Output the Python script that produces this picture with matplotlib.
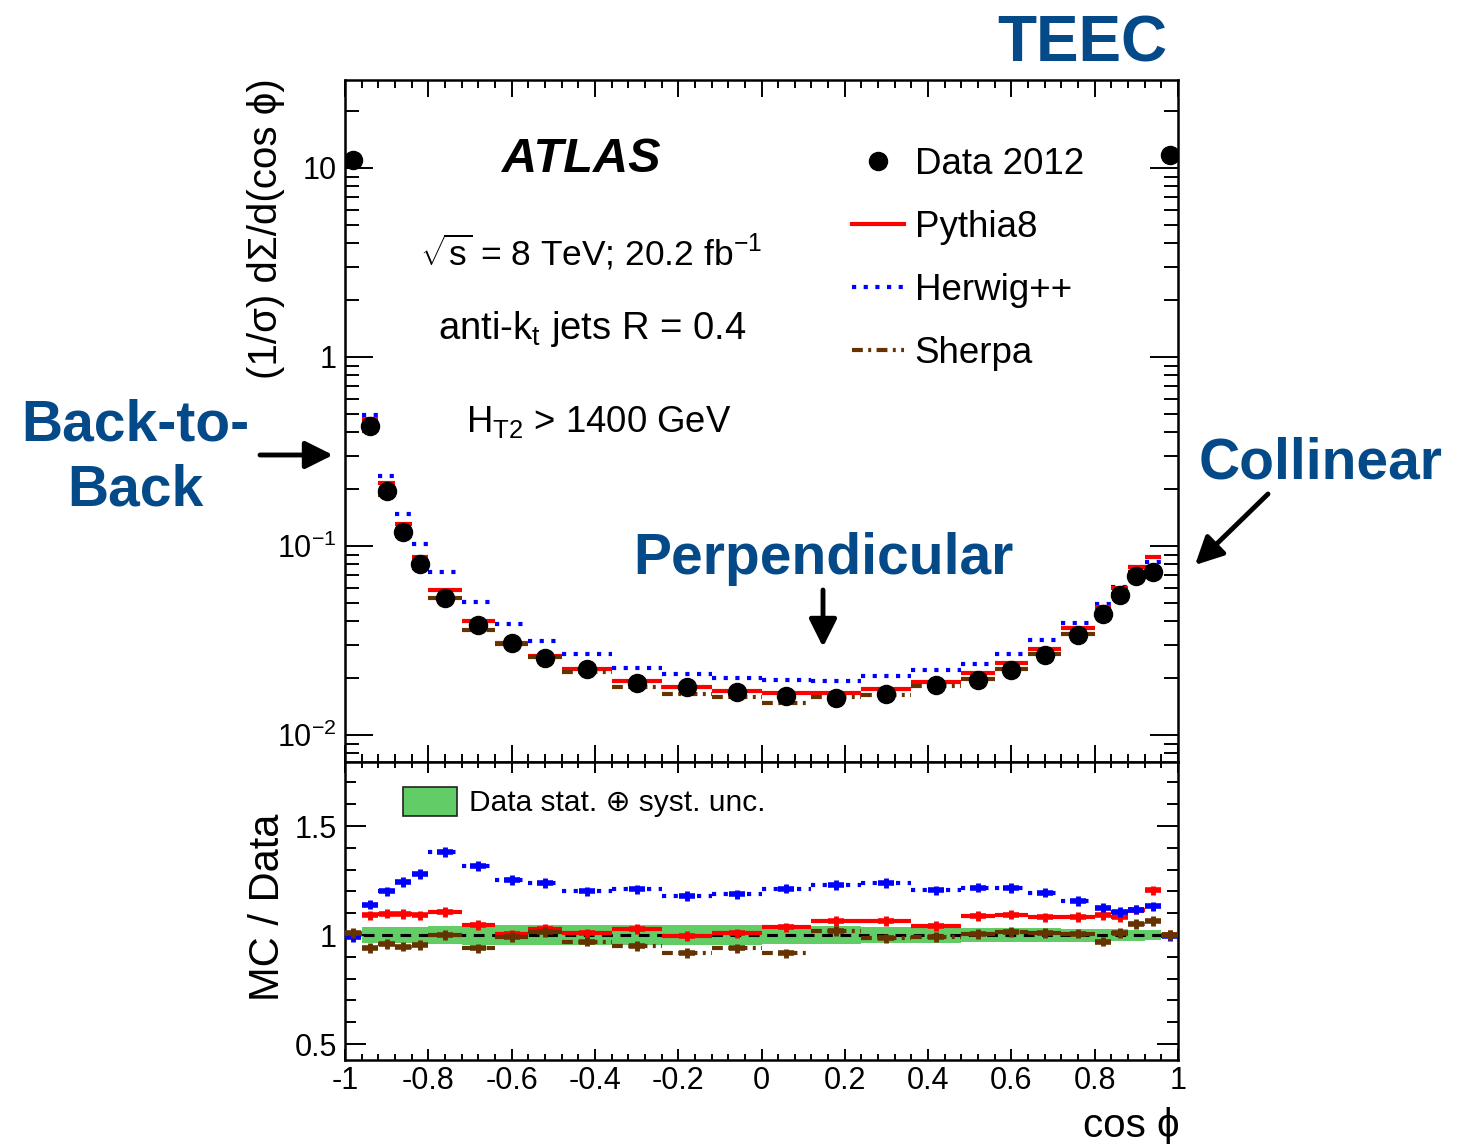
import matplotlib
matplotlib.use('Agg')
import matplotlib.pyplot as plt
import numpy as np
from matplotlib.lines import Line2D
from matplotlib.patches import Patch
from matplotlib.ticker import MultipleLocator, LogLocator, NullFormatter

plt.rcParams['font.family'] = ['Liberation Sans', 'DejaVu Sans']
plt.rcParams['mathtext.fontset'] = 'custom'
plt.rcParams['mathtext.rm'] = 'Liberation Sans'
plt.rcParams['mathtext.it'] = 'Liberation Sans:italic'
plt.rcParams['mathtext.bf'] = 'Liberation Sans:bold'
plt.rcParams['axes.unicode_minus'] = False

# bin edges in cos(phi)
edges = [-1.0, -0.96, -0.92, -0.88, -0.84, -0.80, -0.72, -0.64, -0.56, -0.48,
         -0.36, -0.24, -0.12, 0.0, 0.12, 0.24, 0.36, 0.48, 0.56, 0.64, 0.72,
         0.80, 0.84, 0.88, 0.92, 0.96, 1.0]

data_2012 = [11.0, 0.431, 0.195, 0.1186, 0.0803, 0.0531, 0.0382, 0.0307, 0.0255,
             0.0223, 0.0188, 0.0179, 0.0169, 0.0161, 0.0157, 0.0165, 0.0184,
             0.0196, 0.0221, 0.0265, 0.0338, 0.0437, 0.0551, 0.0694, 0.0728, 11.7]

ratio_pythia = [1.005, 1.09, 1.099, 1.096, 1.09, 1.106, 1.046, 1.003, 1.03, 1.008,
                1.027, 0.997, 1.008, 1.035, 1.065, 1.064, 1.041, 1.087, 1.094,
                1.081, 1.084, 1.09, 1.084, 1.117, 1.205, 1.0]
ratio_herwig = [0.99, 1.14, 1.20, 1.243, 1.28, 1.38, 1.316, 1.254, 1.239, 1.20,
                1.21, 1.178, 1.187, 1.213, 1.231, 1.24, 1.205, 1.218, 1.217,
                1.195, 1.157, 1.126, 1.106, 1.117, 1.132, 0.995]
ratio_sherpa = [1.01, 0.942, 0.959, 0.947, 0.954, 1.0, 0.939, 0.992, 1.015, 0.97,
                0.95, 0.919, 0.939, 0.916, 1.018, 0.985, 0.99, 1.005, 1.015,
                1.01, 1.007, 0.97, 1.01, 1.05, 1.064, 1.0]
ratio_err = 0.022

# half width of data stat+syst band around 1
band_hw = [0.01, 0.035, 0.035, 0.035, 0.035, 0.04, 0.044, 0.044, 0.045, 0.045,
           0.045, 0.045, 0.044, 0.043, 0.04, 0.038, 0.036, 0.033, 0.032, 0.031,
           0.03, 0.028, 0.026, 0.025, 0.023, 0.01]

xtick_vals = [-1, -0.8, -0.6, -0.4, -0.2, 0, 0.2, 0.4, 0.6, 0.8, 1]
xtick_labels = ['-1', '-0.8', '-0.6', '-0.4', '-0.2', '0', '0.2', '0.4', '0.6', '0.8', '1']
ytick_vals = [0.01, 0.1, 1, 10]
ytick_labels = ['$10^{-2}$', '$10^{-1}$', '1', '10']
rtick_vals = [0.5, 1, 1.5]
rtick_labels = ['0.5', '1', '1.5']

W, H = 1460, 1144
BLUE_TXT = '#044a89'
GREEN = '#62cc66'
models = [('Pythia8', ratio_pythia, 'red', '-'),
          ('Herwig++', ratio_herwig, 'blue', (0, (1, 1.8))),
          ('Sherpa', ratio_sherpa, '#663300', (0, (2.6, 1.3, 0.7, 1.3)))]


def fp(px, py):
    return px / W, 1 - py / H


lo = np.array(edges[:-1])
hi = np.array(edges[1:])
cen = 0.5 * (lo + hi)
data = np.array(data_2012)

fig = plt.figure(figsize=(14.6, 11.44), dpi=100)
ax = fig.add_axes([345 / W, 1 - 762 / H, 833 / W, 682 / H])
ax2 = fig.add_axes([345 / W, 1 - 1060 / H, 833 / W, 298 / H])

# main panel
for name, r, c, ls in [models[1], models[0], models[2]]:
    ax.hlines(data * np.array(r), lo, hi, colors=c, linestyles=[ls], lw=3)
ax.plot(cen, data, 'o', color='k', ms=13, zorder=5)
ax.set_yscale('log')
ax.set_xlim(-1, 1)
ax.set_ylim(0.0072, 29.2)
ax.set_yticks(ytick_vals)
ax.set_yticklabels(ytick_labels)
ax.yaxis.set_minor_locator(LogLocator(base=10, subs=np.arange(2, 10)))
ax.yaxis.set_minor_formatter(NullFormatter())
ax.xaxis.set_major_locator(MultipleLocator(0.2))
ax.xaxis.set_minor_locator(MultipleLocator(0.04))
ax.tick_params(axis='x', labelbottom=False)
ax.tick_params(axis='x', which='major', length=12)
ax.tick_params(axis='x', which='minor', length=6)
ax.tick_params(axis='y', which='major', length=20, labelsize=22, pad=6)
ax.tick_params(axis='y', which='minor', length=10)

# ratio panel
ax2.bar(cen, 2 * np.array(band_hw), bottom=1 - np.array(band_hw), width=hi - lo,
        color=GREEN, edgecolor='none', zorder=1)
ax2.axhline(1, color='k', ls=(0, (3.5, 2.5)), lw=2.2, zorder=2)
for name, r, c, ls in models:
    ax2.hlines(r, lo, hi, colors=c, linestyles=[ls], lw=3, zorder=3)
    ax2.errorbar(cen, r, yerr=ratio_err, fmt='none', ecolor=c, elinewidth=3.5, capsize=0, zorder=3)
    ax2.plot(cen, r, ls='none', marker='_', ms=12, mew=4, color=c, zorder=3)
ax2.set_xlim(-1, 1)
ax2.set_ylim(0.427, 1.794)
ax2.set_xticks(xtick_vals)
ax2.set_xticklabels(xtick_labels)
ax2.xaxis.set_minor_locator(MultipleLocator(0.04))
ax2.set_yticks(rtick_vals)
ax2.set_yticklabels(rtick_labels)
ax2.yaxis.set_minor_locator(MultipleLocator(0.1))
ax2.tick_params(axis='x', which='major', length=8, labelsize=22, pad=4)
ax2.tick_params(axis='x', which='minor', length=4)
ax2.tick_params(axis='y', which='major', length=15, labelsize=22, pad=6)
ax2.tick_params(axis='y', which='minor', length=8)

for a in (ax, ax2):
    a.tick_params(which='both', direction='in', top=True, right=True, width=1.4, color='k')
    for s in a.spines.values():
        s.set_linewidth(1.8)

# legends
handles = [Line2D([], [], ls='none', marker='o', color='k', ms=13)]
for name, r, c, ls in models:
    handles.append(Line2D([], [], color=c, ls=ls, lw=3))
labels = ['Data 2012', 'Pythia8', 'Herwig++', 'Sherpa']
ax.legend(handles, labels, loc='upper left', bbox_to_anchor=fp(852, 147),
          bbox_transform=fig.transFigure, frameon=False, fontsize=26.5,
          handlelength=1.4, handletextpad=0.3, labelspacing=0.76,
          borderpad=0, borderaxespad=0)
ax2.legend([Patch(facecolor=GREEN, edgecolor='#222222', lw=1.2)],
           ['Data stat. \u2295 syst. unc.'], loc='upper left',
           bbox_to_anchor=fp(403, 787), bbox_transform=fig.transFigure,
           frameon=False, fontsize=21.5, handlelength=1.8, handleheight=1.1,
           handletextpad=0.4, borderpad=0, borderaxespad=0)

# labels inside the main panel
fig.text(*fp(581, 160), 'ATLAS', fontsize=35, fontweight='bold', fontstyle='italic',
         ha='center', va='center')
fig.text(*fp(591, 252), r'$\sqrt{\mathrm{s}}$ = 8 TeV; 20.2 fb$^{-1}$', fontsize=25.5,
         ha='center', va='center')
fig.text(*fp(592, 329), r'anti-k$_{\mathrm{t}}$ jets R = 0.4', fontsize=27.5,
         ha='center', va='center')
fig.text(*fp(599, 422), r'H$_{\mathrm{T2}}$ > 1400 GeV', fontsize=26.3,
         ha='center', va='center')

# axis titles
fig.text(*fp(266, 78), '(1/σ) dΣ/d(cos ϕ)', fontsize=29, rotation=90, ha='center', va='top')
fig.text(*fp(268, 814), 'MC / Data', fontsize=30, rotation=90, ha='center', va='top')
fig.text(*fp(1180, 1126), 'cos ϕ', fontsize=29, ha='right', va='center')

# annotations
fig.text(*fp(1082, 44), 'TEEC', fontsize=46, fontweight='bold', color=BLUE_TXT,
         ha='center', va='center')
fig.text(*fp(135, 458), 'Back-to-\nBack', fontsize=41, fontweight='bold', color=BLUE_TXT,
         ha='center', va='center', multialignment='center', linespacing=1.27)
fig.text(*fp(1321, 463), 'Collinear', fontsize=41, fontweight='bold', color=BLUE_TXT,
         ha='center', va='center')
fig.text(*fp(823, 559), 'Perpendicular', fontsize=41, fontweight='bold', color=BLUE_TXT,
         ha='center', va='center')

arrow = dict(arrowstyle='-|>', lw=3.5, color='k', mutation_scale=42, shrinkA=0, shrinkB=0)
for start, end in [((260, 455), (333, 455)), ((823, 590), (823, 647)),
                   ((1268, 494), (1195, 565))]:
    ax.annotate('', xy=fp(*end), xytext=fp(*start), xycoords='figure fraction',
                textcoords='figure fraction', arrowprops=arrow, annotation_clip=False)

plt.savefig('out.png', dpi=100)
